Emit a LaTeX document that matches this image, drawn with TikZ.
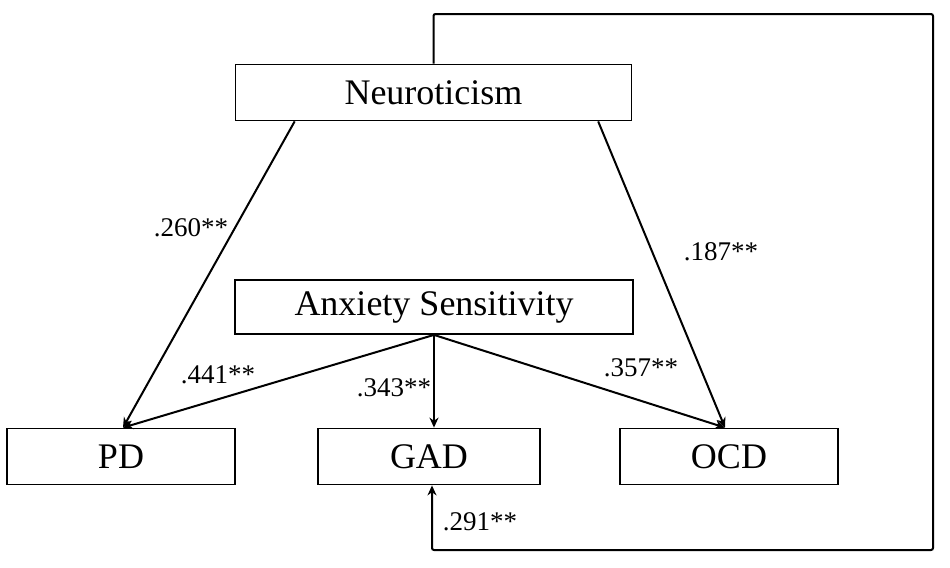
\documentclass[tikz,border=0pt]{standalone}
\usepackage{fontspec}
\setmainfont{Liberation Serif}
\usetikzlibrary{arrows.meta,calc,positioning}
\tikzset{%
	box/.style   = {draw, rectangle, line width=0.9pt, inner sep=0pt, minimum height=28pt, text centered, font=\fontsize{18}{20}\selectfont},
	coef/.style  = {inner sep=0pt, font=\fontsize{13.5}{15}\selectfont},
	arrow/.style = {line width=1pt, -{Stealth[length=5pt,width=4.5pt]}},
}
\begin{document}
\begin{tikzpicture}[x=0.5pt,y=-0.5pt]
	\useasboundingbox (0,0) rectangle (950,568);
	% boxes
	\node[box, minimum width=198pt] (neuro) at (433.5,92.5) {Neuroticism};
	\node[box, minimum width=199pt, minimum height=27pt] (as) at (434,307) {Anxiety Sensitivity};
	\node[box, minimum width=114pt] (pd) at (121,456.5) {PD};
	\node[box, minimum width=111pt] (gad) at (429,456.5) {GAD};
	\node[box, minimum width=109pt] (ocd) at (729,456.5) {OCD};
	\coordinate (nl) at ($(neuro.south west)!0.151!(neuro.south east)$);
	\coordinate (nr) at ($(neuro.south west)!0.914!(neuro.south east)$);
	\coordinate (tr) at (933,14);
	\coordinate (br) at (933,550);
	% paths
	\draw[arrow] (nl) -- ([xshift=1pt]pd.north);
	\draw[arrow] (nr) -- ([xshift=-2pt]ocd.north);
	\draw[arrow] (as.south) -- ([xshift=1pt]pd.north);
	\draw[arrow] (as.south) -- (as.south |- gad.north);
	\draw[arrow] (as.south) -- ([xshift=-2pt]ocd.north);
	\draw[arrow, rounded corners=1pt] (neuro.north) |- (tr) -- (br) -| ([xshift=1.5pt]gad.south);
	% coefficients
	\node[coef] (c1) at (191,228) {.260**};
	\node[coef] (c2) at (721,252) {.187**};
	\node[coef] (c3) at (218,375) {.441**};
	\node[coef] (c4) at (394,388) {.343**};
	\node[coef] (c5) at (641,368) {.357**};
	\node[coef] (c6) at (480,522) {.291**};
\end{tikzpicture}
\end{document}
